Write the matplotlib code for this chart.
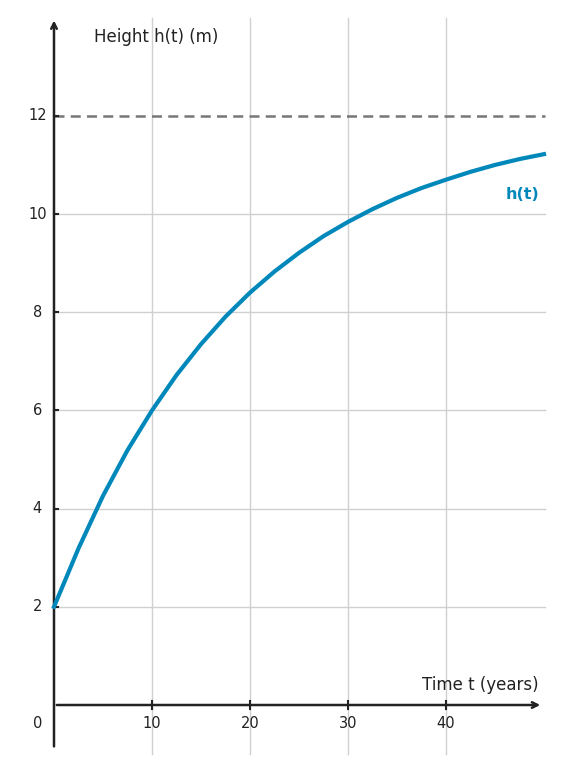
import matplotlib.pyplot as plt

# values
t_vals = [0, 2.5, 5, 7.5, 10, 12.5, 15, 17.5, 20, 22.5, 25, 27.5, 30, 32.5, 35,
          37.5, 40, 42.5, 45, 47.5, 50]
h_vals = [2.0, 3.19, 4.26, 5.19, 6.0, 6.72, 7.35, 7.91, 8.40, 8.83, 9.21, 9.55,
          9.84, 10.10, 10.33, 10.53, 10.70, 10.86, 11.00, 11.12, 11.22]
x_ticks = [10, 20, 30, 40]
y_ticks = [2, 4, 6, 8, 10, 12]
asymptote = 12

fig = plt.figure(figsize=(5.63, 7.73), dpi=100)
ax = fig.add_axes([0, 0, 1, 1])
ax.set_xlim(-5.51, 51.94)
ax.set_ylim(-1.385, 14.36)
ax.axis('off')

grid = '#d0d0d0'
dark = '#222222'
for x in x_ticks:
    ax.plot([x, x], [-1.0, 14.0], color=grid, lw=1, zorder=1)
    ax.plot([x, x], [-0.08, 0.08], color=dark, lw=1.5, zorder=3)
    ax.text(x, -0.38, str(x), ha='center', va='center', fontsize=10.5, color=dark)
for y in y_ticks[:-1]:
    ax.plot([0, 50.1], [y, y], color=grid, lw=1, zorder=1)
for y in y_ticks:
    ax.plot([0, 0.4], [y, y], color=dark, lw=1.5, zorder=3)
    ax.text(-1.7, y, str(y), ha='center', va='center', fontsize=10.5, color=dark)
ax.text(-1.7, -0.38, '0', ha='center', va='center', fontsize=10.5, color=dark)

ax.plot([0, 50.1], [asymptote, asymptote], color='#777777', lw=1.8,
        ls=(0, (4, 2.5)), zorder=2)

ax.annotate('', xy=(49.9, 0), xytext=(0, 0),
            arrowprops=dict(arrowstyle='->', color=dark, lw=1.8), zorder=4)
ax.annotate('', xy=(0, 14.0), xytext=(0, -0.9),
            arrowprops=dict(arrowstyle='->', color=dark, lw=1.8), zorder=4)

ax.plot(t_vals, h_vals, color='#0088bb', lw=3, zorder=5)
ax.text(49.5, 10.4, 'h(t)', ha='right', va='center', fontsize=11.5,
        fontweight='bold', color='#0088bb')
ax.text(49.5, 0.4, 'Time t (years)', ha='right', va='center', fontsize=12, color=dark)
ax.text(4.1, 13.6, 'Height h(t) (m)', ha='left', va='center', fontsize=12, color=dark)

fig.savefig('out.png', dpi=100)
